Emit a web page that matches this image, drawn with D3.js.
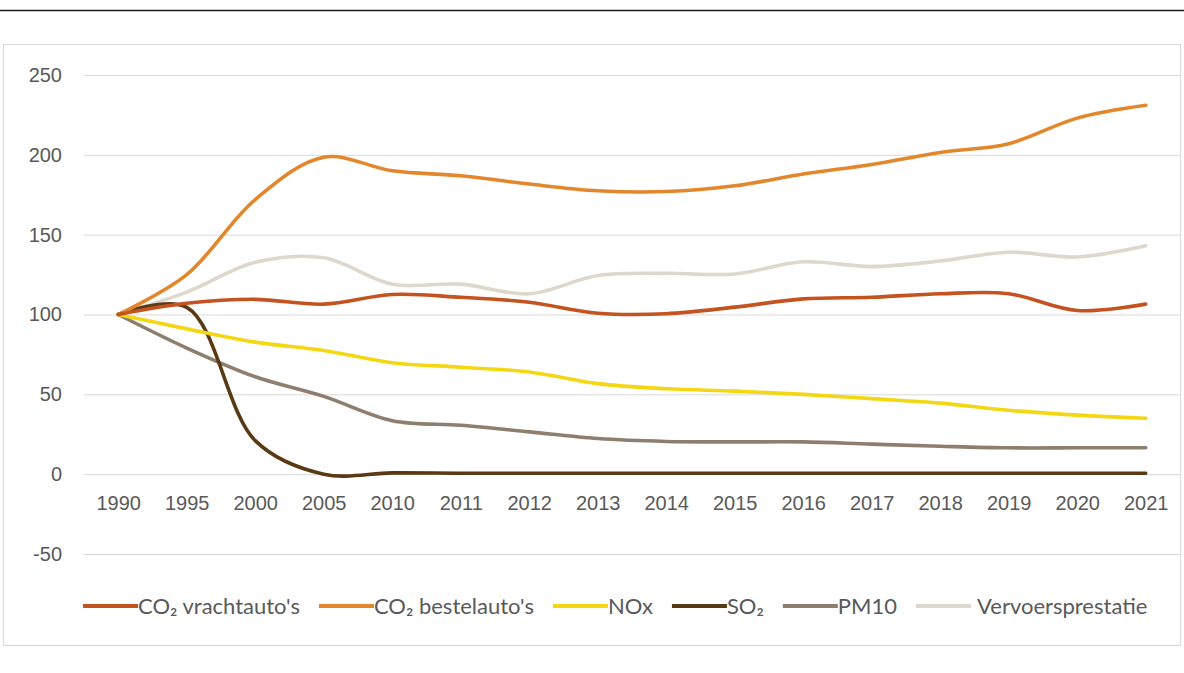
<!DOCTYPE html>
<html>
<head>
<meta charset="utf-8">
<script src="https://cdn.jsdelivr.net/npm/d3@7"></script>
<style>
  html, body { margin: 0; padding: 0; background: #fff; }
  svg { display: block; font-family: Lato, "Open Sans", "DejaVu Sans", sans-serif; }
</style>
</head>
<body>
<svg id="chart" width="1184" height="673"></svg>
<script>
// Index, 1990 = 100
const years = ["1990","1995","2000","2005","2010","2011","2012","2013","2014","2015","2016","2017","2018","2019","2020","2021"];
const yTicks = [-50, 0, 50, 100, 150, 200, 250];

const seriesNames = ["CO\u2082 vrachtauto's", "CO\u2082 bestelauto's", "NOx", "SO\u2082", "PM10", "Vervoersprestatie"];
const co2Vracht   = [100, 107, 109.5, 106.5, 112.5, 110.8, 107.7, 100.8, 100.5, 104.6, 109.8, 110.8, 113, 113, 102.5, 106.5];
const co2Bestel   = [100, 125, 172, 198.5, 190, 186.9, 181.7, 177.5, 177, 180.6, 188, 194, 201.5, 207, 223, 231];
const nox         = [100, 91, 82.7, 77.5, 69.8, 67, 64, 56.7, 53.5, 52, 50, 47.3, 44.5, 40, 37, 35];
const so2         = [100, 104.5, 21, 0, 0.8, 0.6, 0.6, 0.6, 0.6, 0.6, 0.6, 0.6, 0.6, 0.6, 0.6, 0.6];
const pm10        = [100, 79, 61, 48.7, 33.5, 30.6, 26.5, 22.3, 20.5, 20.2, 20.2, 18.8, 17.5, 16.5, 16.5, 16.5];
const vervoer     = [100, 114, 132.7, 135.5, 119, 119, 113, 124.4, 125.8, 125.4, 133, 130, 133.5, 139, 136, 143];

const seriesColors = ["#c4531f", "#e3872c", "#f3d712", "#5a3915", "#8e7e6f", "#ded7cc"];
const seriesValues = [co2Vracht, co2Bestel, nox, so2, pm10, vervoer];

const svg = d3.select("#chart");

// page rule above the chart
svg.append("line")
  .attr("x1", 0).attr("x2", 1184).attr("y1", 10.5).attr("y2", 10.5)
  .attr("stroke", "#1a1a1a").attr("stroke-width", 1.5);

// chart frame
svg.append("rect")
  .attr("x", 3.5).attr("y", 44.5).attr("width", 1177).attr("height", 601)
  .attr("fill", "#fff").attr("stroke", "#d9d9d9").attr("stroke-width", 1);

const x = d3.scalePoint().domain(years).range([84, 1180]).padding(0.5);
const y = d3.scaleLinear().domain([-50, 250]).range([554, 75]);

// gridlines + value labels
const yAxis = svg.append("g")
  .attr("transform", "translate(84,0)")
  .call(d3.axisLeft(y).tickValues(yTicks).tickSize(-1096).tickPadding(22).tickFormat(d => String(d)));
yAxis.select(".domain").remove();
yAxis.selectAll(".tick line").attr("stroke", "#d9d9d9").attr("stroke-width", 1);
yAxis.selectAll(".tick text").attr("fill", "#595959").style("font-size", "20px");

// category labels
const xAxis = svg.append("g")
  .attr("transform", `translate(0,${y(0)})`)
  .call(d3.axisBottom(x).tickSize(0).tickPadding(22));
xAxis.select(".domain").remove();
xAxis.selectAll(".tick text").attr("fill", "#595959").style("font-size", "20px");

const line = d3.line()
  .x((d, i) => x(years[i]))
  .y(d => y(d))
  .curve(d3.curveCatmullRom.alpha(0.5));

// draw from back to front
const drawOrder = [5, 4, 3, 2, 1, 0];
svg.append("g").selectAll("path")
  .data(drawOrder)
  .join("path")
  .attr("d", k => line(seriesValues[k]))
  .attr("fill", "none")
  .attr("stroke", k => seriesColors[k])
  .attr("stroke-width", 3.6)
  .attr("stroke-linecap", "round")
  .attr("stroke-linejoin", "round");

// legend: swatch, label, then a fixed gap to the next entry
const swatchLen = 55, itemGap = 19;
const legend = svg.append("g").attr("transform", "translate(83,606)");
let cursor = 0;
seriesNames.forEach((name, i) => {
  const g = legend.append("g").attr("transform", `translate(${cursor},0)`);
  g.append("line")
    .attr("x1", 0).attr("x2", swatchLen).attr("y1", 0).attr("y2", 0)
    .attr("stroke", seriesColors[i])
    .attr("stroke-width", 4);
  const t = g.append("text")
    .attr("x", swatchLen + (i === 5 ? 6 : 0))
    .attr("dy", "0.35em")
    .attr("fill", "#595959")
    .style("font-size", "22px")
    .text(name);
  cursor += swatchLen + (i === 5 ? 6 : 0) + t.node().getComputedTextLength() + itemGap;
});
</script>
</body>
</html>
